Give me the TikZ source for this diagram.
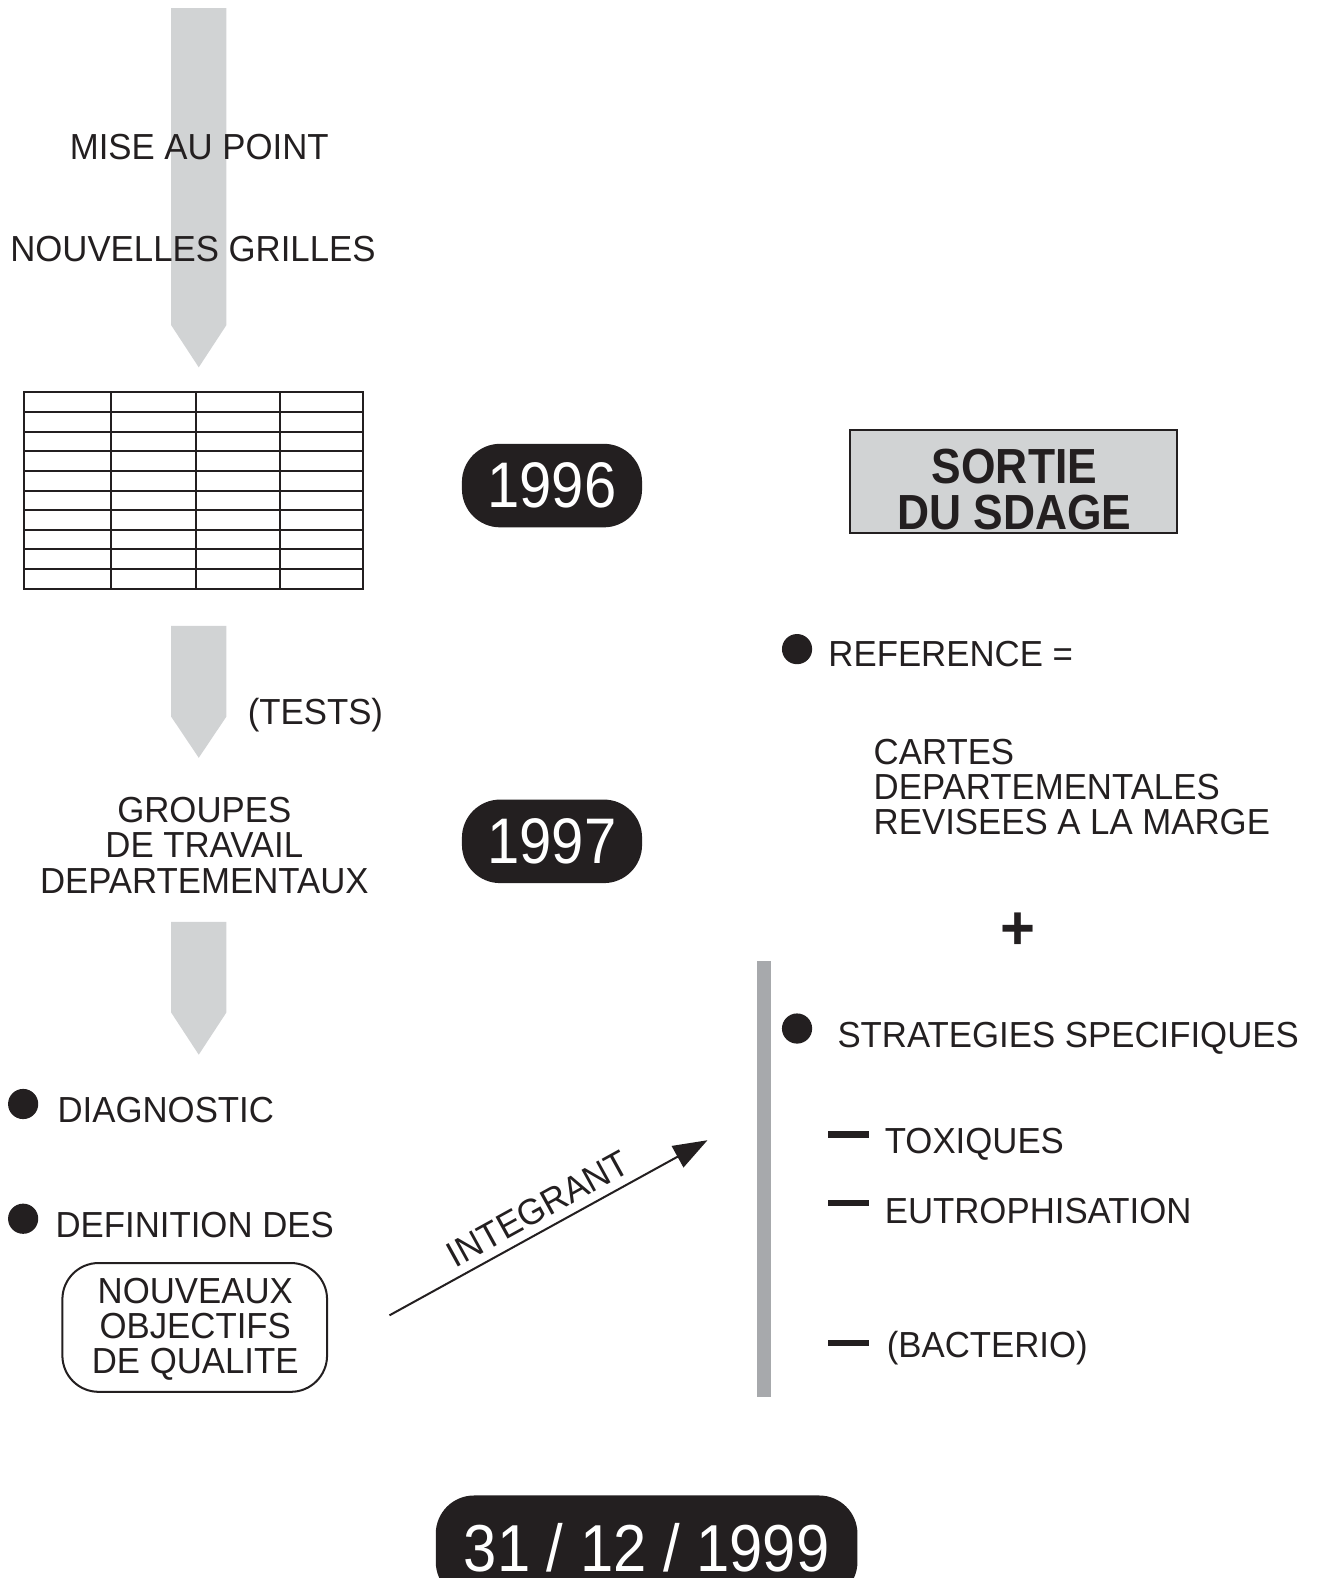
\documentclass[tikz,border=0pt]{standalone}
\usepackage{fontspec}
\setmainfont[FakeStretch=0.96]{Liberation Sans}
\newfontfamily\yearfont[FakeStretch=0.9]{Liberation Sans}
\usetikzlibrary{arrows.meta}
\definecolor{arrowgray}{HTML}{D1D3D4}
\definecolor{bargray}{HTML}{A7A9AC}
\definecolor{ink}{HTML}{231F20}
\begin{document}
\begin{tikzpicture}[x=1pt,y=-1pt,
  txt/.style={inner sep=0pt, text=ink, font=\fontsize{36}{35}\selectfont},
  pill/.style={fill=ink, rounded corners=38pt, text=white, inner sep=0pt,
    font=\yearfont\fontsize{64}{64}\selectfont},
  downarrow/.style={fill=arrowgray, draw=none},
  bulletdot/.style={fill=ink, draw=none},
  dashmark/.style={fill=ink, draw=none},
  gridline/.style={draw=ink, line width=2pt}
]
\useasboundingbox (0,0) rectangle (1312,1568);

% grey down arrows
\fill[downarrow] (170,8) -- (225,8) -- (225,323) -- (197.5,365) -- (170,323) -- cycle;
\fill[downarrow] (170,622) -- (225,622) -- (225,712) -- (197.5,753) -- (170,712) -- cycle;
\fill[downarrow] (170,916) -- (225,916) -- (225,1006) -- (197.5,1048) -- (170,1006) -- cycle;

% top texts
\node[txt, anchor=base] (mise) at (198,158) {MISE AU POINT};
\node[txt, anchor=base west] (grilles) at (10,260) {NOUVELLES GRILLES};

% table
\foreach \yy in {409.5,429,448.5,468,487.5,507,526.5,546,565.5}
  \draw[gridline] (24,\yy) -- (361,\yy);
\foreach \xx in {110,195,278}
  \draw[gridline] (\xx,390) -- (\xx,585);
\draw[gridline] (24,390) rectangle (361,585);
\coordinate (table) at (192,487);

% year pills
\node[pill, minimum width=179pt, minimum height=83pt] (y96) at (548.5,482.5) {1996};
\node[pill, minimum width=179pt, minimum height=83pt] (y97) at (548.5,836) {1997};

% SORTIE DU SDAGE
\node[draw=ink, fill=arrowgray, line width=2pt, minimum width=325pt, minimum height=103pt, inner sep=0pt] (sortie) at (1007.5,478.5) {};
\node[inner sep=0pt, text=ink, align=center, font=\yearfont\bfseries\fontsize{49}{45}\selectfont] (sortietxt) at (1008,486.5) {SORTIE\\DU SDAGE};

% tests & groups
\node[txt, anchor=base west] (tests) at (246,720) {(TESTS)};
\node[txt, align=center, anchor=north] (groupes) at (203,792) {GROUPES\\DE TRAVAIL\\DEPARTEMENTAUX};

% left bullets
\fill[bulletdot] (23,1097) circle (15);
\node[txt, anchor=base west] (diag) at (57,1115) {DIAGNOSTIC};
\fill[bulletdot] (23,1211) circle (15);
\node[txt, anchor=base west] (defin) at (55,1230) {DEFINITION DES};
\node[draw=ink, line width=2pt, rounded corners=36pt, minimum width=263pt, minimum height=128pt, inner sep=0pt] (objbox) at (193.5,1319) {};
\node[txt, align=center] (objtxt) at (194,1321) {NOUVEAUX\\OBJECTIFS\\DE QUALITE};

% integrant arrow
\coordinate (i1) at (387,1307);
\coordinate (i2) at (703,1133);
\draw[ink, line width=2pt, -{Triangle[length=34pt,width=24pt]}] (i1) -- (i2)
  node[pos=0.5, sloped, above=8pt, txt] (integ) {INTEGRANT};

% vertical bar
\fill[bargray] (752,955) rectangle (766,1388);

% right column
\fill[bulletdot] (792,645) circle (15);
\node[txt, anchor=base west] (ref) at (823,662) {REFERENCE =};
\node[txt, align=left, anchor=north west] (cartes) at (868,734) {CARTES\\DEPARTEMENTALES\\REVISEES A LA MARGE};
\node[inner sep=0pt, text=ink, font=\bfseries\fontsize{62}{62}\selectfont] (plus) at (1012,925) {+};
\fill[bulletdot] (792,1022) circle (15);
\node[txt, anchor=base west] (strat) at (832,1041) {STRATEGIES SPECIFIQUES};
\fill[dashmark] (823,1124) rectangle (863,1130.5);
\node[txt, anchor=base west] (tox) at (879,1146) {TOXIQUES};
\fill[dashmark] (823,1192) rectangle (863,1198.5);
\node[txt, anchor=base west] (eutro) at (879,1216) {EUTROPHISATION};
\fill[dashmark] (823,1331) rectangle (863,1337.5);
\node[txt, anchor=base west] (bact) at (881,1349) {(BACTERIO)};

% final date
\begin{scope}
\clip (0,0) rectangle (1312,1568);
\node[pill, minimum width=419pt, minimum height=104pt, font=\yearfont\fontsize{66}{66}\selectfont] (date) at (642.5,1538) {31 / 12 / 1999};
\end{scope}
\end{tikzpicture}
\end{document}
